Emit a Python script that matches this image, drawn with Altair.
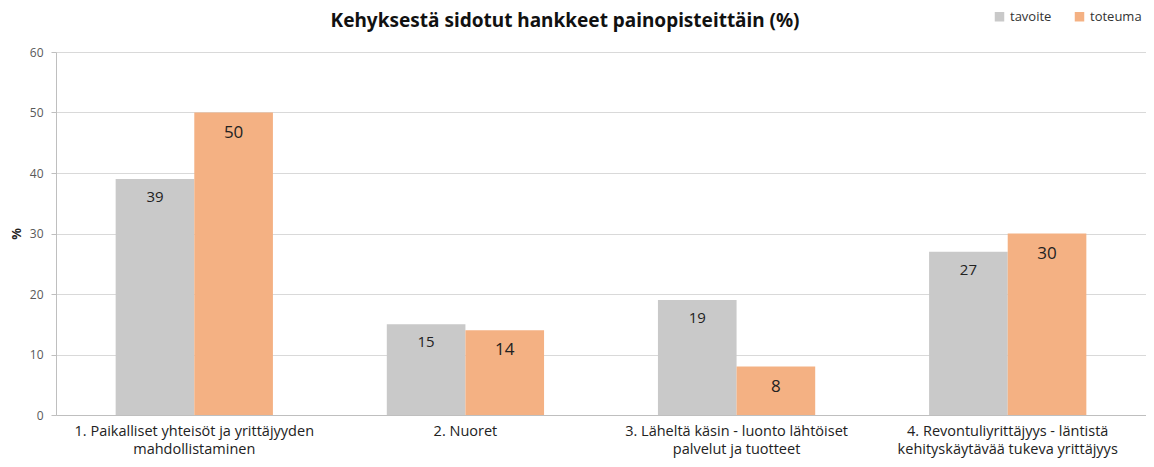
import altair as alt
import pandas as pd

TITLE = "Kehyksestä sidotut hankkeet painopisteittäin (%)"
categories = [
    "1. Paikalliset yhteisöt ja yrittäjyyden|mahdollistaminen",
    "2. Nuoret",
    "3. Läheltä käsin - luonto lähtöiset|palvelut ja tuotteet",
    "4. Revontuliyrittäjyys - läntistä|kehityskäytävää tukeva yrittäjyys",
]
series = ["tavoite", "toteuma"]
tavoite = [39, 15, 19, 27]
toteuma = [50, 14, 8, 30]
y_ticks = [0, 10, 20, 30, 40, 50, 60]

rows = []
for c, a, b in zip(categories, tavoite, toteuma):
    rows.append({"cat": c, "sarja": "tavoite", "arvo": a})
    rows.append({"cat": c, "sarja": "toteuma", "arvo": b})
df = pd.DataFrame(rows)

FONT = "Open Sans"
BFONT = "Noto Sans"
colors = ["#C9C9C9", "#F4B183"]

x = alt.X("cat:N", sort=categories, title=None,
          scale=alt.Scale(paddingInner=0.42, paddingOuter=0.22),
          axis=alt.Axis(labelAngle=0, labelExpr="split(datum.label, '|')",
                        ticks=False, domainColor="#BFBFBF", labelFont=FONT,
                        labelFontSize=14.5, labelColor="#222222", labelPadding=9,
                        labelLineHeight=18, labelLimit=400))
xo = alt.XOffset("sarja:N", sort=series, scale=alt.Scale(paddingInner=0, paddingOuter=0))
y = alt.Y("arvo:Q", title="%",
          scale=alt.Scale(domain=[0, 60]),
          axis=alt.Axis(values=y_ticks, grid=True, gridColor="#D9D9D9",
                        domainColor="#BFBFBF", tickColor="#BFBFBF", tickSize=5,
                        labelFont=FONT, labelFontSize=12, labelColor="#595959",
                        labelPadding=8, titleFont=BFONT, titleFontSize=13,
                        titleFontWeight="bold", titleColor="#222222", titlePadding=6))

base = alt.Chart(df)

bars = base.mark_bar().encode(
    x=x, xOffset=xo, y=y,
    color=alt.Color("sarja:N", sort=series,
                    scale=alt.Scale(domain=series, range=colors),
                    legend=alt.Legend(title=None, orient="none", direction="horizontal",
                                      legendX=937, legendY=-42, symbolType="square",
                                      symbolSize=90, symbolStrokeWidth=0,
                                      labelFont=FONT, labelFontSize=13,
                                      labelColor="#333333", columnPadding=21,
                                      labelLimit=80)),
)

lab1 = base.transform_filter(alt.datum.sarja == "tavoite").mark_text(
    baseline="middle", dy=18, font=FONT, fontSize=15, color="#222222"
).encode(x=x, xOffset=xo, y=y, text="arvo:Q")

lab2 = base.transform_filter(alt.datum.sarja == "toteuma").mark_text(
    baseline="middle", dy=20, font=FONT, fontSize=17, color="#222222"
).encode(x=x, xOffset=xo, y=y, text="arvo:Q")

title_layer = alt.Chart(pd.DataFrame({"t": [TITLE]})).mark_text(
    font=BFONT, fontSize=19, fontWeight="bold", color="#111111",
    align="center", baseline="middle"
).encode(text="t:N", x=alt.value(509), y=alt.value(-31))

chart = alt.layer(bars, lab1, lab2, title_layer).properties(
    width=1090, height=363,
    autosize=alt.AutoSizeParams(type="none"),
    padding={"left": 48, "top": 44, "right": 0, "bottom": 43},
).configure(background="white").configure_view(stroke=None)

chart.save("out.html", embed_options={"renderer": "svg", "actions": False})
